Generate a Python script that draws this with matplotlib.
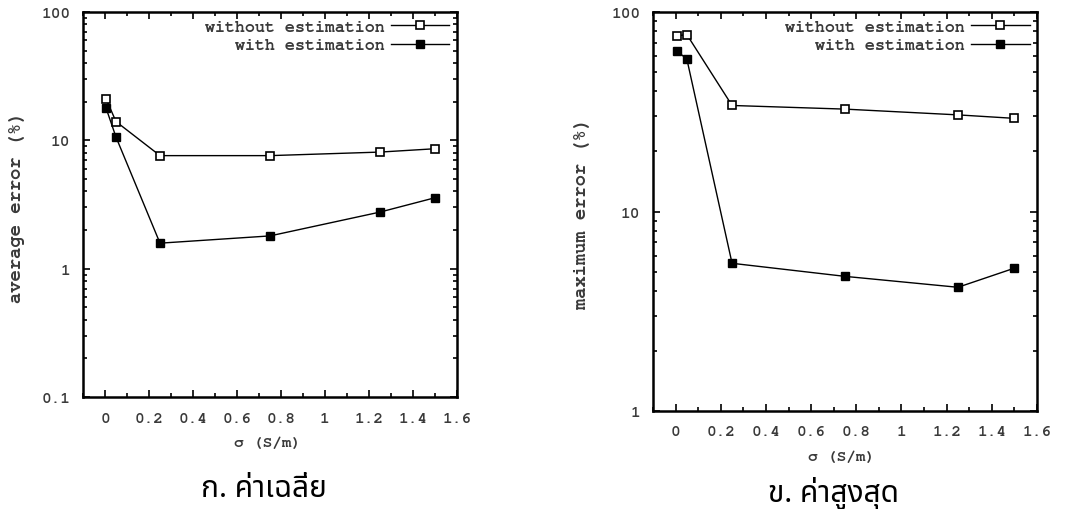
import matplotlib
matplotlib.use("Agg")
import matplotlib.pyplot as plt
from matplotlib.ticker import FixedLocator, FuncFormatter, LogLocator, MultipleLocator

# sigma values (S/m)
sigma = [0.005, 0.05, 0.25, 0.75, 1.25, 1.5]

# average error (%)
avg_without = [21, 14, 7.6, 7.6, 8.1, 8.6]
avg_with = [17.8, 10.6, 1.58, 1.8, 2.76, 3.57]

# maximum error (%)
max_without = [76, 77, 34, 32.6, 30.5, 29.3]
max_with = [64, 58, 5.5, 4.73, 4.17, 5.2]

labels = ["without estimation", "with estimation"]
xticks = [0, 0.2, 0.4, 0.6, 0.8, 1, 1.2, 1.4, 1.6]
captions = ["ก. ค่าเฉลี่ย", "ข. ค่าสูงสุด"]

MONO = ["FreeMono", "Liberation Mono", "DejaVu Sans Mono"]
TXT = "#3a3a3a"
THAI = ["Noto Sans Thai", "Sarabun", "DejaVu Sans"]

fig = plt.figure(figsize=(10.8, 5.1), dpi=100)
ax1 = fig.add_axes([83 / 1080, 1 - 398 / 510, 374 / 1080, 385 / 510])
ax2 = fig.add_axes([653 / 1080, 1 - 412 / 510, 384 / 1080, 399 / 510])


def style(ax, ylim, xpad):
    ax.set_yscale("log")
    ax.set_xlim(-0.1, 1.6)
    ax.set_ylim(*ylim)
    ax.xaxis.set_major_locator(FixedLocator(xticks))
    ax.xaxis.set_minor_locator(MultipleLocator(0.1))
    ax.xaxis.set_major_formatter(FuncFormatter(lambda v, p: "%g" % v))
    ax.yaxis.set_major_locator(LogLocator(base=10))
    ax.yaxis.set_minor_locator(LogLocator(base=10, subs=range(2, 10)))
    ax.yaxis.set_major_formatter(FuncFormatter(lambda v, p: "%g" % v))
    ax.yaxis.set_minor_formatter(FuncFormatter(lambda v, p: ""))
    ax.tick_params(which="both", direction="in", top=True, right=True,
                   labelcolor=TXT, labelsize=11.5, width=1.2)
    ax.tick_params(which="major", length=5)
    ax.tick_params(which="minor", length=3)
    ax.tick_params(axis="x", pad=xpad)
    ax.tick_params(axis="y", pad=9)
    for lab in ax.get_xticklabels() + ax.get_yticklabels():
        lab.set_fontfamily(MONO)
        lab.set_fontweight("bold")
    for s in ax.spines.values():
        s.set_linewidth(1.8)


def draw(ax, ywo, yw):
    ax.plot(sigma, ywo, color="black", lw=1, marker="s", ms=6,
            mfc="white", mec="black", mew=1.2, label=labels[0])
    ax.plot(sigma, yw, color="black", lw=1, marker="s", ms=6,
            mfc="black", mec="black", label=labels[1])
    ax.legend(loc="upper right", frameon=False, markerfirst=False,
              prop={"family": MONO, "size": 12, "weight": "bold"},
              labelcolor=TXT, handlelength=3.5, handletextpad=0.4,
              labelspacing=0.15, borderaxespad=0.2, borderpad=0.25)


draw(ax1, avg_without, avg_with)
style(ax1, (0.1, 100), 11)
draw(ax2, max_without, max_with)
style(ax2, (1, 100), 10)

# axis labels
for x, y in [(267, 444), (842, 458)]:
    fig.text(x / 1080, 1 - y / 510, "σ (S/m)", family=MONO, size=11.5,
             weight="bold", color=TXT, ha="center", va="center")
fig.text(17 / 1080, 1 - 207 / 510, "average error (%)", family=MONO,
         size=13.5, weight="bold", color=TXT, ha="center", va="center",
         rotation=90)
fig.text(582 / 1080, 1 - 213 / 510, "maximum error (%)", family=MONO,
         size=13.5, weight="bold", color=TXT, ha="center", va="center",
         rotation=90)

# Thai captions
fig.text(264 / 1080, 1 - 497 / 510, captions[0], family=THAI, size=21.5,
         color="black", ha="center", va="baseline")
fig.text(833 / 1080, 1 - 502 / 510, captions[1], family=THAI, size=21.5,
         color="black", ha="center", va="baseline")

fig.savefig("out.png", dpi=100)
